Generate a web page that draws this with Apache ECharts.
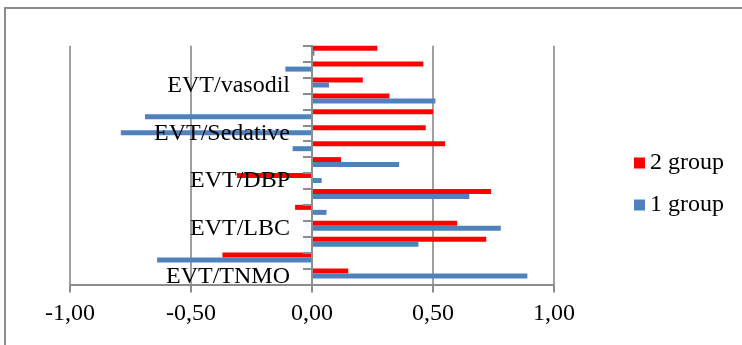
<!DOCTYPE html>
<html><head><meta charset="utf-8">
<script src="https://cdn.jsdelivr.net/npm/echarts@6/dist/echarts.min.js"></script>
<style>html,body{margin:0;padding:0;background:#fff}#c{width:742px;height:345px}</style>
</head><body><div id="c"></div>
<script>
// categories bottom to top (only every third is labelled in the source)
const categories = ['EVT/TNMO','EVT/TNMO-2','EVT/TNMO-3','EVT/LBC','EVT/LBC-2','EVT/LBC-3','EVT/DBP','EVT/DBP-2','EVT/DBP-3','EVT/Sedative','EVT/Sedative-2','EVT/Sedative-3','EVT/vasodil','EVT/vasodil-2','EVT/vasodil-3'];
const group1 = [0.89,-0.64,0.44,0.78,0.06,0.65,0.04,0.36,-0.08,-0.79,-0.69,0.51,0.07,-0.11,0.01];
const group2 = [0.15,-0.37,0.72,0.60,-0.07,0.74,-0.31,0.12,0.55,0.47,0.50,0.32,0.21,0.46,0.27];
const xTicks = [-1,-0.5,0,0.5,1];
const FONT = 'Liberation Serif';
const chart = echarts.init(document.getElementById('c'));
chart.setOption({
  animation:false,
  graphic:[{type:'rect',shape:{x:5,y:8,width:800,height:400},style:{fill:'none',stroke:'#8c8c8c',lineWidth:2},silent:true}],
  grid:{left:70,right:188,top:45.7,bottom:60.5,containLabel:false,outerBoundsMode:'none'},
  legend:{orient:'vertical',left:629,top:146,itemWidth:11,itemHeight:11,itemGap:18,icon:'rect',
    data:['2 group','1 group'],textStyle:{fontFamily:FONT,fontSize:24,color:'#000'}},
  xAxis:{type:'value',min:xTicks[0],max:xTicks[xTicks.length-1],interval:0.5,
    axisLine:{show:true,lineStyle:{color:'#8c8c8c',width:2}},
    axisTick:{show:true,length:8,lineStyle:{color:'#8c8c8c',width:2}},
    axisLabel:{margin:17,fontFamily:FONT,fontSize:24,color:'#000',formatter:v=>v.toFixed(2).replace('.',',')},
    splitLine:{show:true,lineStyle:{color:'#a0a0a0',width:2}}},
  yAxis:{type:'category',data:categories,z:5,offset:-242,
    axisLine:{show:true,onZero:false,lineStyle:{color:'#8c8c8c',width:2}},
    axisTick:{show:true,interval:0,length:9,lineStyle:{color:'#8c8c8c',width:2}},
    axisLabel:{interval:2,margin:22,fontFamily:FONT,fontSize:24,color:'#000',formatter:v=>v.replace(/-\d$/,'')}},
  series:[
    {name:'2 group',type:'bar',data:group2,barWidth:5,barGap:'0%',itemStyle:{color:'#ff0000'}},
    {name:'1 group',type:'bar',data:group1,barWidth:5,barGap:'0%',itemStyle:{color:'#4f81bd'}},
    {name:'spacer',type:'bar',data:[],barWidth:6,barGap:'0%'}
  ]
});
</script></body></html>
